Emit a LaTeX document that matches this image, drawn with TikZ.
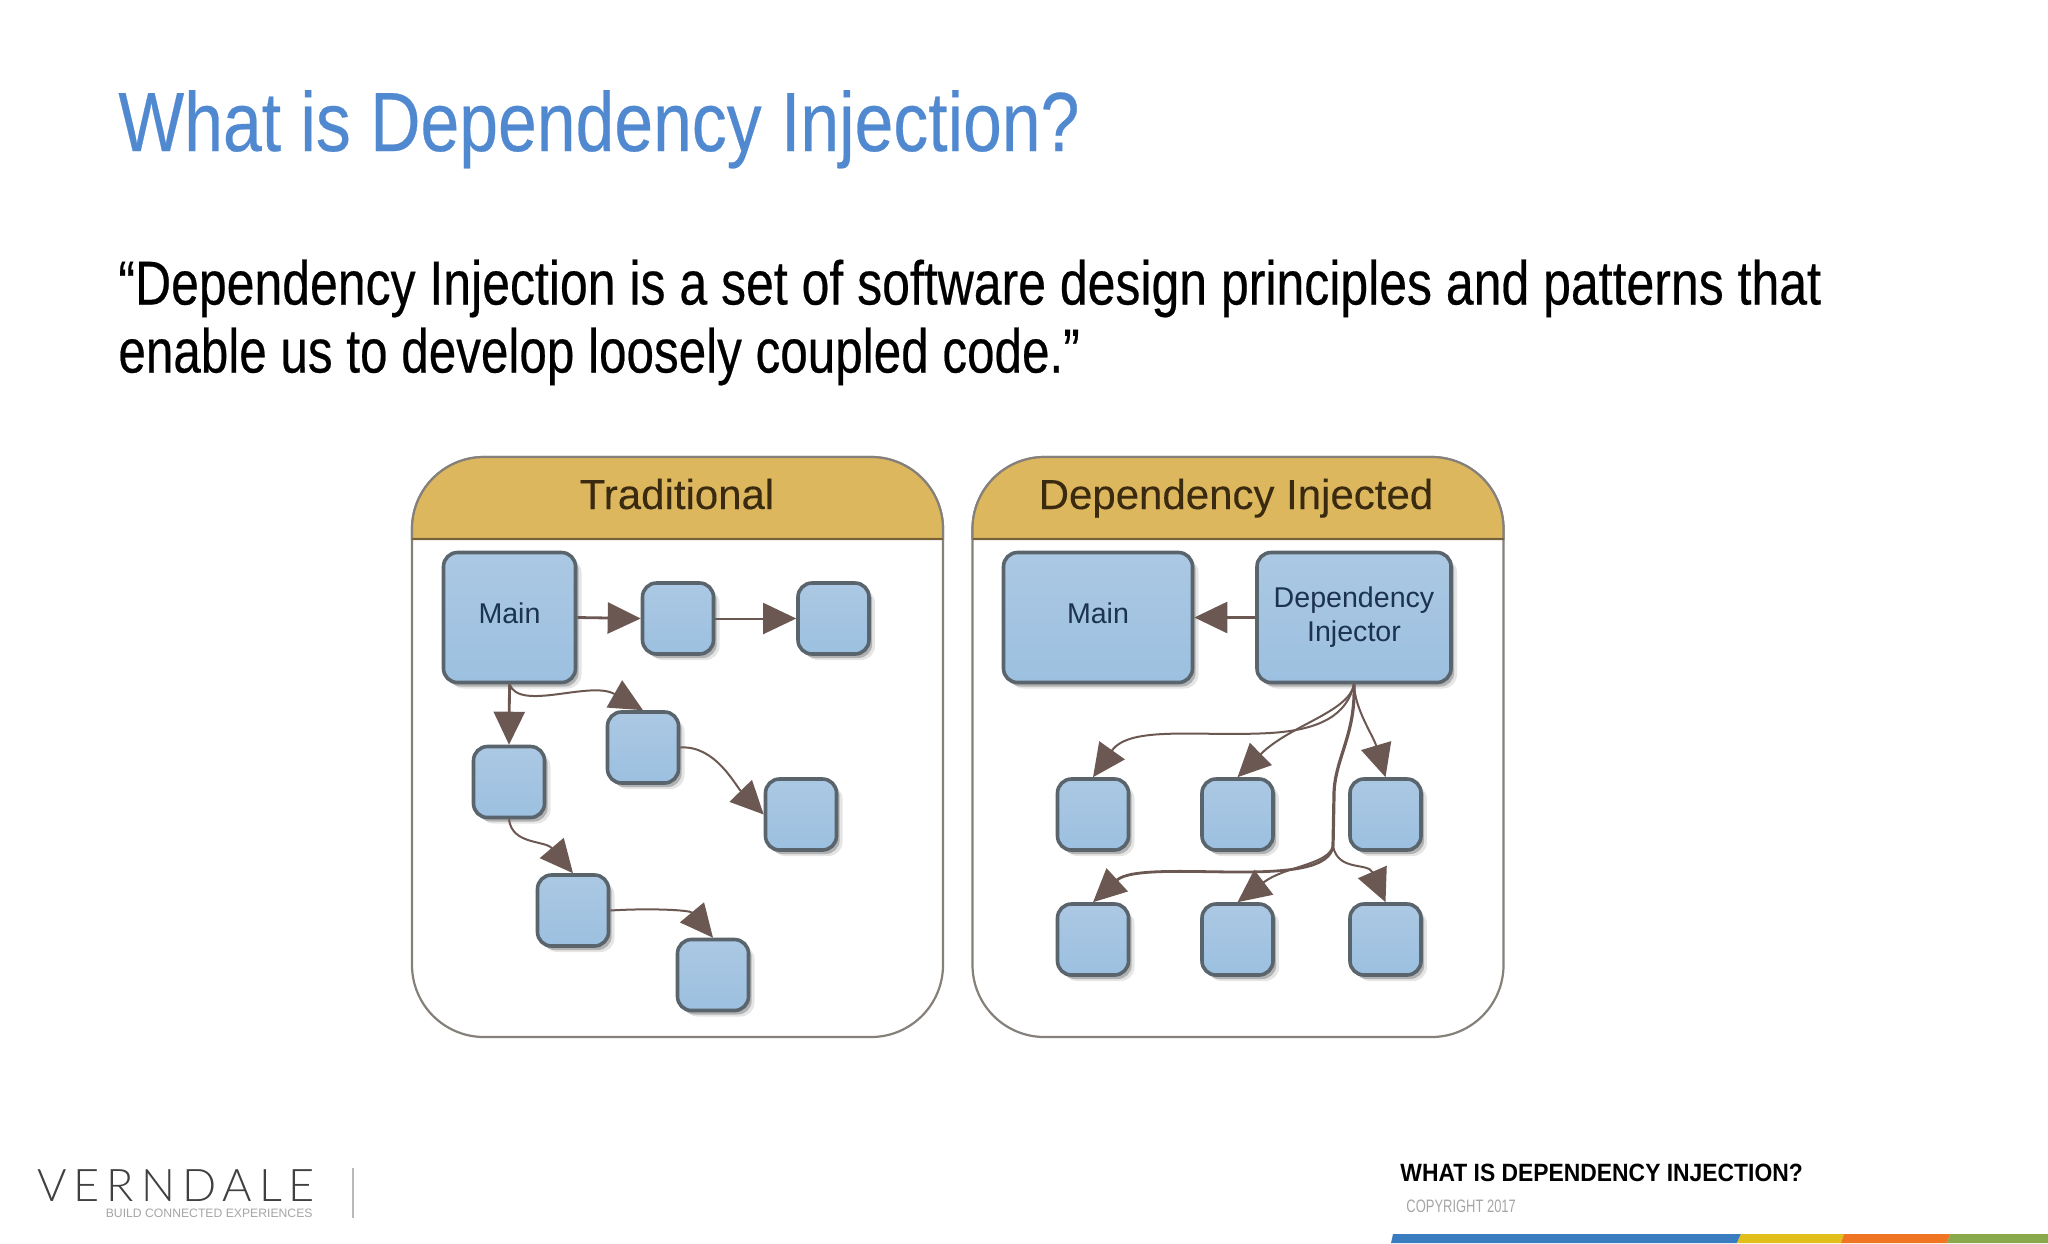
\documentclass[tikz,border=0pt]{standalone}
\usepackage{fontspec}
\setmainfont{Liberation Sans}
\newfontfamily\condfont[FakeStretch=0.83,FakeBold=0.3]{Liberation Sans}
\newfontfamily\quotefont[FakeStretch=0.806,FakeBold=0.35]{Liberation Sans}
\newfontfamily\quotefontb[FakeStretch=0.797,FakeBold=0.35]{Liberation Sans}
\newfontfamily\copyfont[FakeStretch=0.72]{Liberation Sans}
\newfontfamily\condbold[FakeStretch=0.915]{Liberation Sans Bold}
\newfontfamily\headfont[FakeBold=0.15]{Liberation Sans}
\newfontfamily\logofont{Lato Light}
\usetikzlibrary{arrows.meta,shadows,calc}
\definecolor{titleblue}{HTML}{5189D1}
\definecolor{gold}{HTML}{DDB75E}
\definecolor{panelline}{HTML}{85807A}
\definecolor{headrule}{HTML}{7A6238}
\definecolor{boxline}{HTML}{5A646C}
\definecolor{boxa}{HTML}{ABC8E3}
\definecolor{boxb}{HTML}{9CC0E0}
\definecolor{brownline}{HTML}{6C5853}
\definecolor{boxtext}{HTML}{1C3350}
\definecolor{headtext}{HTML}{3A2A10}
\definecolor{barblue}{HTML}{3A7CC0}
\definecolor{baryellow}{HTML}{E0BF1C}
\definecolor{barorange}{HTML}{EF7522}
\definecolor{bargreen}{HTML}{8AA94C}
\tikzset{
  panel/.style={draw=panelline,line width=1.1pt,fill=white,rounded corners=36pt,minimum width=265.5pt,minimum height=290pt,inner sep=0pt},
  head/.style={draw=panelline,line width=1.1pt,fill=gold},
  headrulestyle/.style={draw=headrule,line width=1.4pt},
  headlabel/.style={font=\headfont\fontsize{21}{25}\selectfont,text=headtext,inner sep=0pt,anchor=base},
  block/.style={draw=boxline,line width=1.8pt,rounded corners=7pt,top color=boxa,bottom color=boxb,inner sep=0pt,align=center,
    font=\fontsize{14.3}{17}\selectfont,text=boxtext,
    drop shadow={shadow xshift=1.6pt,shadow yshift=-2pt,opacity=.22,fill=black},
    drop shadow={shadow xshift=3pt,shadow yshift=-3pt,opacity=.10,fill=black}},
  small/.style={block,minimum width=35.5pt,minimum height=35.5pt},
  wire/.style={draw=brownline,line width=1pt,-{Triangle[length=16.5pt,width=15.5pt,fill=brownline]}},
  thick wire/.style={wire,line width=1.4pt},
  trunk/.style={draw=brownline,line width=1.6pt},
  slidetitle/.style={font=\condfont\fontsize{42}{50}\selectfont,text=titleblue,anchor=base west,inner sep=0pt},
  quote/.style={font=\quotefont\fontsize{31}{38}\selectfont,text=black,anchor=base west,inner sep=0pt},
}
\begin{document}
\begin{tikzpicture}[x=0.5pt,y=-0.5pt]
\useasboundingbox (0,0) rectangle (2048,1243);
\fill[white] (0,0) rectangle (2048,1243);

\node[slidetitle] (title) at (118,151) {What is Dependency Injection?};
\node[quote] (q1) at (118,304.5) {“Dependency Injection is a set of software design principles and patterns that};
\node[quote,font=\quotefontb\fontsize{31}{38}\selectfont] (q2) at (118,372.5) {enable us to develop loosely coupled code.”};

% left panel
\node[panel] (pa) at (677.5,747) {};
\draw[head] (412,539) [rounded corners=36pt] -- (412,457) -- (943,457) [sharp corners] -- (943,539) -- cycle;
\draw[headrulestyle] (412,539) -- (943,539);
\node[headlabel] (pat) at (677,509) {Traditional};
\node[block,minimum width=66pt,minimum height=65pt] (main) at (509.5,617.5) {\raisebox{2pt}[10pt][0pt]{Main}};
\node[small] (a1) at (678,618.5) {};
\node[small] (a2) at (833.5,618.5) {};
\node[small] (a3) at (643,747.5) {};
\node[small] (a4) at (509,782) {};
\node[small] (a5) at (801,814.5) {};
\node[small] (a6) at (573,910.5) {};
\node[small] (a7) at (713,975) {};

\draw[thick wire] (main.east) -- (a1.west);
\draw[wire] (a1.east) -- (a2.west);
\draw[thick wire] (main.south) -- (a4.north);
\draw[wire] (main.south) .. controls (520,712) and (590,680) .. (a3.north);
\draw[wire] (a3.east) .. controls (715,745) and (735,785) .. (a5.west);
\draw[wire] (a4.south) .. controls (512,845) and (545,840) .. (a6.north);
\draw[wire] (a6.east) .. controls (650,908) and (690,910) .. (a7.north);

% right panel
\node[panel] (pb) at (1238,747) {};
\draw[head] (972.5,539) [rounded corners=36pt] -- (972.5,457) -- (1503.5,457) [sharp corners] -- (1503.5,539) -- cycle;
\draw[headrulestyle] (972.5,539) -- (1503.5,539);
\node[headlabel] (pbt) at (1236,509) {Dependency Injected};
\node[block,minimum width=94.5pt,minimum height=65pt] (main2) at (1098,617.5) {\raisebox{2pt}[10pt][0pt]{Main}};
\node[block,minimum width=97pt,minimum height=65pt] (di) at (1354,617.5) {Dependency\\Injector};
\node[small] (b1) at (1093,814.5) {};
\node[small] (b2) at (1237.5,814.5) {};
\node[small] (b3) at (1385.5,814.5) {};
\node[small] (b4) at (1093,939.5) {};
\node[small] (b5) at (1237.5,939.5) {};
\node[small] (b6) at (1385.5,939.5) {};

\draw[thick wire] (di.west) -- (main2.east);
\draw[wire] (di.south) .. controls (1347,715) and (1320,730) .. (1270,733) .. controls (1200,737) and (1130,725) .. (b1.north);
\draw[wire] (di.south) .. controls (1349,712) and (1290,725) .. (b2.north);
\draw[wire] (di.south) .. controls (1355,710) and (1373,735) .. (b3.north);
\coordinate (fork) at (1333,846);
\draw[trunk] (di.south) .. controls (1356,735) and (1334,760) .. (1334,795) -- (fork);
\draw[thick wire] (fork) .. controls (1330,868) and (1290,872) .. (1240,872) .. controls (1190,872) and (1130,868) .. (b4.north);
\draw[wire] (fork) .. controls (1328,865) and (1285,866) .. (b5.north);
\draw[wire] (fork) .. controls (1338,872) and (1368,862) .. (b6.north);

% footer
\node[anchor=base west,inner sep=0pt,font=\logofont\fontsize{22.5}{25}\selectfont,text=black!75] (logo) at (37,1201) {\addfontfeature{LetterSpace=15.5}VERNDALE};
\node[anchor=base east,inner sep=0pt,font=\fontsize{6.1}{8}\selectfont,text=black!35] (tag) at (313,1217) {BUILD CONNECTED EXPERIENCES};
\draw[black!28,line width=.9pt] (353,1168) -- (353,1218);
\node[anchor=base west,inner sep=0pt,font=\condbold\fontsize{12.5}{14}\selectfont,text=black] (foot) at (1400,1181) {WHAT IS DEPENDENCY INJECTION?};
\node[anchor=base west,inner sep=0pt,font=\copyfont\fontsize{9}{11}\selectfont,text=black!35] (copy) at (1406,1212) {COPYRIGHT 2017};
\fill[barblue] (1391,1243) -- (1393,1234) -- (1741,1234) -- (1737,1243) -- cycle;
\fill[baryellow] (1737,1243) -- (1741,1234) -- (1844,1234) -- (1841,1243) -- cycle;
\fill[barorange] (1841,1243) -- (1844,1234) -- (1950,1234) -- (1947,1243) -- cycle;
\fill[bargreen] (1947,1243) -- (1950,1234) -- (2048,1234) -- (2048,1243) -- cycle;
\end{tikzpicture}
\end{document}
